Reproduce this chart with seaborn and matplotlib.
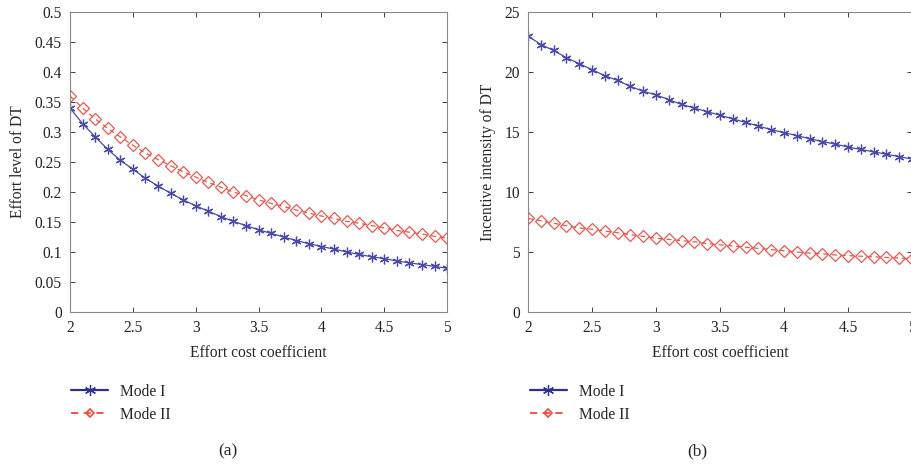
import matplotlib
matplotlib.use('Agg')
import matplotlib.pyplot as plt
import pandas as pd
import numpy as np
import seaborn as sns

sns.set_theme(style='ticks', rc={'xtick.direction': 'in', 'ytick.direction': 'in',
                                 'xtick.top': True, 'ytick.right': True})
plt.rcParams['font.family'] = ['Liberation Serif', 'DejaVu Serif']

cost = [2.0, 2.1, 2.2, 2.3, 2.4, 2.5, 2.6, 2.7, 2.8, 2.9, 3.0,
        3.1, 3.2, 3.3, 3.4, 3.5, 3.6, 3.7, 3.8, 3.9, 4.0,
        4.1, 4.2, 4.3, 4.4, 4.5, 4.6, 4.7, 4.8, 4.9, 5.0]

effort_mode1 = [0.340, 0.314, 0.292, 0.271, 0.253, 0.238, 0.223, 0.210, 0.198, 0.187, 0.177,
                0.168, 0.159, 0.151, 0.144, 0.137, 0.131, 0.125, 0.119, 0.114, 0.109,
                0.105, 0.100, 0.096, 0.092, 0.089, 0.085, 0.082, 0.079, 0.076, 0.073]
effort_mode2 = [0.360, 0.340, 0.322, 0.306, 0.292, 0.278, 0.265, 0.254, 0.244, 0.234, 0.225,
                0.216, 0.208, 0.200, 0.194, 0.187, 0.181, 0.176, 0.170, 0.165, 0.160,
                0.156, 0.151, 0.148, 0.144, 0.140, 0.136, 0.133, 0.130, 0.126, 0.123]

incent_mode1 = [23.0, 22.3, 21.8, 21.2, 20.7, 20.2, 19.7, 19.3, 18.8, 18.4, 18.1,
                17.7, 17.3, 17.0, 16.7, 16.4, 16.1, 15.8, 15.5, 15.2, 14.95,
                14.7, 14.45, 14.2, 14.0, 13.75, 13.55, 13.35, 13.15, 12.95, 12.75]
incent_mode2 = [7.8, 7.6, 7.4, 7.2, 7.0, 6.9, 6.75, 6.6, 6.45, 6.3, 6.15,
                6.05, 5.95, 5.85, 5.7, 5.6, 5.5, 5.4, 5.3, 5.2, 5.1,
                5.0, 4.9, 4.85, 4.75, 4.7, 4.65, 4.6, 4.55, 4.5, 4.45]

blue = '#4a48a8'
red = '#e25a52'
fs = 11.2

fig = plt.figure(figsize=(9.12, 4.66), dpi=100)
ax1 = fig.add_axes([0.0768, 0.3305, 0.4135, 0.6435])
ax2 = fig.add_axes([0.579, 0.3305, 0.421, 0.6435])

panels = [
    (ax1, effort_mode1, effort_mode2, 'Effort level of DT', 0.5, np.arange(0, 0.51, 0.05), '(a)', 0.071, 0.25),
    (ax2, incent_mode1, incent_mode2, 'Incentive intensity of DT', 25, np.arange(0, 26, 5), '(b)', 0.574, 0.765),
]

for ax, m1, m2, ylab, ymax, yt, tag, lx, tx in panels:
    sns.lineplot(x=cost, y=m1, ax=ax, color=blue, lw=0.9, marker=(6, 2, 0),
                 markersize=7, markeredgewidth=0.9, markeredgecolor=blue, label='Mode I')
    sns.lineplot(x=cost, y=m2, ax=ax, color=red, lw=0.9, linestyle=(0, (4, 3)), marker='D',
                 markersize=6.2, markerfacecolor='none', markeredgecolor=red,
                 markeredgewidth=0.9, label='Mode II')
    ax.set_xlim(2, 5)
    ax.set_ylim(0, ymax)
    ax.set_xticks([2, 2.5, 3, 3.5, 4, 4.5, 5])
    ax.set_xticklabels(['2', '2.5', '3', '3.5', '4', '4.5', '5'])
    ax.set_yticks(yt)
    ax.set_yticklabels(['%g' % round(v, 2) for v in yt])
    ax.set_xlabel('Effort cost coefficient', fontsize=fs, labelpad=6.5)
    ax.set_ylabel(ylab, fontsize=fs, labelpad=6)
    ax.tick_params(labelsize=fs, length=3.5, width=0.6, colors='#222222', pad=6)
    for s in ax.spines.values():
        s.set_color('#888888')
        s.set_linewidth(0.8)
    h, l = ax.get_legend_handles_labels()
    ax.get_legend().remove()
    leg = fig.legend(h, l, loc='upper left', bbox_to_anchor=(lx, 0.19), frameon=False,
                     fontsize=fs, handlelength=2.4, handletextpad=0.75, labelspacing=0.45,
                     borderaxespad=0)
    lines = leg.get_lines()
    lines[0].set_color('#30308e')
    lines[0].set_markeredgecolor('#30308e')
    lines[0].set_linewidth(1.6)
    lines[0].set_markersize(8)
    lines[1].set_color('#f04a3a')
    lines[1].set_markeredgecolor('#f04a3a')
    lines[1].set_linewidth(1.3)
    lines[1].set_markersize(4.5)
    lines[1].set_markeredgewidth(1.2)
    fig.text(tx, 0.022, tag, fontsize=12.5, ha='center')

fig.savefig('out.png', dpi=100)
